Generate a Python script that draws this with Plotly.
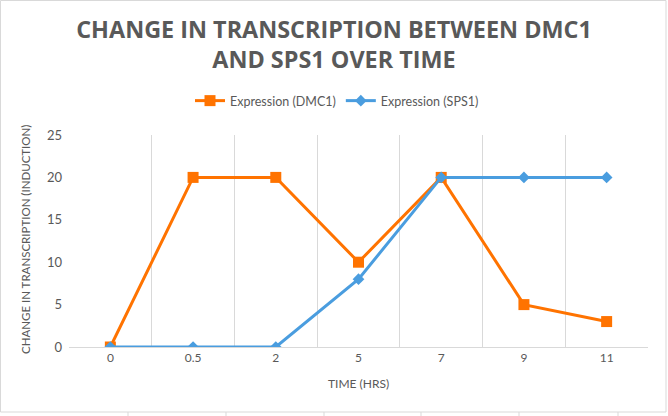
import plotly.graph_objects as go

times = ["0", "0.5", "2", "5", "7", "9", "11"]
dmc1 = [0, 20, 20, 10, 20, 5, 3]
sps1 = [0, 0, 0, 8, 20, 20, 20]
y_ticks = [0, 5, 10, 15, 20, 25]

TXT = "#595959"
GRID = "#d9d9d9"
ORANGE = "#FF7300"
BLUE = "#4A9DDF"
FONT = "Lato, 'Open Sans', sans-serif"

fig = go.Figure()
fig.add_trace(go.Scatter(x=times, y=dmc1, name="Expression (DMC1)", mode="lines+markers",
                         line=dict(color=ORANGE, width=3),
                         marker=dict(symbol="square", size=11, color=ORANGE)))
fig.add_trace(go.Scatter(x=times, y=sps1, name="Expression (SPS1)", mode="lines+markers",
                         line=dict(color=BLUE, width=3),
                         marker=dict(symbol="diamond", size=9, color=BLUE)))

ML, MR, MT, MB = 69, 20, 135, 69
W, H = 668, 416
PW, PH = W - ML - MR, H - MT - MB

def px(x):
    return (x - ML) / PW

def py(y):
    return (H - MB - y) / PH

shapes = [
    dict(type="rect", xref="paper", yref="paper", x0=px(0.5), x1=px(666), y0=py(0.5), y1=py(412),
         line=dict(color=GRID, width=1), layer="below"),
]
for cx in [128, 226, 324, 421, 519, 618]:
    shapes.append(dict(type="line", xref="paper", yref="paper", x0=px(cx), x1=px(cx),
                       y0=py(412), y1=py(416), line=dict(color=GRID, width=1)))

fig.update_layout(
    width=W, height=H,
    margin=dict(l=ML, r=MR, t=MT, b=MB, autoexpand=False),
    paper_bgcolor="white", plot_bgcolor="white",
    font=dict(family=FONT, color=TXT, size=12),
    title=dict(text="<b>CHANGE IN TRANSCRIPTION BETWEEN DMC1<br>AND SPS1 OVER TIME</b>",
               x=0.5, xanchor="center", xref="container", y=1 - 38 / H, yanchor="middle",
               yref="container",
               font=dict(family="'Open Sans', sans-serif", size=23.4, color=TXT)),
    legend=dict(orientation="h", x=px(337), xanchor="center", y=py(101),
                yanchor="middle", font=dict(size=12.5, color=TXT), bgcolor="rgba(0,0,0,0)"),
    showlegend=True,
    shapes=shapes,
    annotations=[
        dict(text="CHANGE IN TRANSCRIPTION (INDUCTION)", textangle=-90, xref="paper", yref="paper",
             x=px(25), y=py(240), xanchor="center", yanchor="middle", showarrow=False,
             font=dict(size=11.5, color=TXT)),
        dict(text="TIME (HRS)", xref="paper", yref="paper", x=px(358), y=py(383),
             xanchor="center", yanchor="middle", showarrow=False, font=dict(size=12, color=TXT)),
    ],
)
fig.update_xaxes(type="category", tickson="boundaries", showgrid=True, gridcolor=GRID, gridwidth=1,
                 showline=True, linecolor=GRID, linewidth=1, ticks="", mirror=False,
                 tickfont=dict(size=12, color=TXT), range=[-0.5, 6.5])
fig.update_yaxes(range=[0, 25], tickvals=y_ticks, showgrid=False, zeroline=False, showline=False,
                 ticks="", tickfont=dict(size=13, color=TXT), ticklabelstandoff=6)

fig.write_html("out.html", config={"displayModeBar": False},
               post_script="document.body.style.margin='0px';")
